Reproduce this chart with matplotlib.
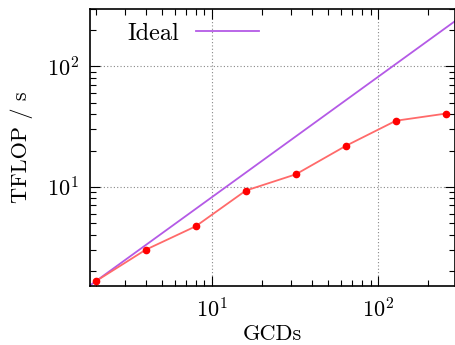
import numpy as np
import matplotlib
matplotlib.use("Agg")
import matplotlib.pyplot as plt

# measured throughput per GCD count
gcds = [2, 4, 8, 16, 32, 64, 128, 256]
tflops = [1.64, 3.0, 4.7, 9.3, 12.7, 21.9, 35.4, 40.6]

x_range = (1.85, 290)
y_range = (1.5, 300)

plt.rcParams["font.family"] = ["cmr10", "DejaVu Serif"]
plt.rcParams["mathtext.fontset"] = "cm"
plt.rcParams["axes.formatter.use_mathtext"] = True
plt.rcParams["font.size"] = 16

fig = plt.figure(figsize=(4.56, 3.45), dpi=100)
ax = fig.add_axes([90 / 456, 1 - 286 / 345, 365 / 456, 277 / 345])

# ideal linear scaling from the first point, across the whole x range
xi = np.array(x_range)
ideal = tflops[0] * xi / gcds[0]
ax.plot(xi, ideal, color="#b45ae6", lw=1.3, label="Ideal")

ax.plot(gcds, tflops, color="#ff6a6a", lw=1.3, zorder=3)
ax.plot(gcds, tflops, "o", color="#ff0000", ms=4.5, zorder=4)

ax.set_xscale("log")
ax.set_yscale("log")
ax.set_xlim(*x_range)
ax.set_ylim(*y_range)

ax.tick_params(which="both", direction="in", top=True, right=True, width=0.8)
ax.tick_params(which="major", length=7, pad=8)
ax.tick_params(which="minor", length=4)
ax.yaxis.set_minor_formatter(matplotlib.ticker.NullFormatter())
ax.xaxis.set_minor_formatter(matplotlib.ticker.NullFormatter())

ax.grid(True, which="major", ls=(0, (1, 2)), color="#888888", lw=0.8)
for s in ax.spines.values():
    s.set_linewidth(1.2)

ax.set_xlabel("GCDs", labelpad=2)
ax.set_ylabel("TFLOP / s", labelpad=10)

leg = ax.legend(loc="upper left", bbox_to_anchor=(0.055, 1.012), frameon=False,
                handlelength=2.6, markerfirst=False, borderaxespad=0.3,
                handletextpad=0.7, fontsize=17.5)

fig.savefig("out.png", dpi=100)
